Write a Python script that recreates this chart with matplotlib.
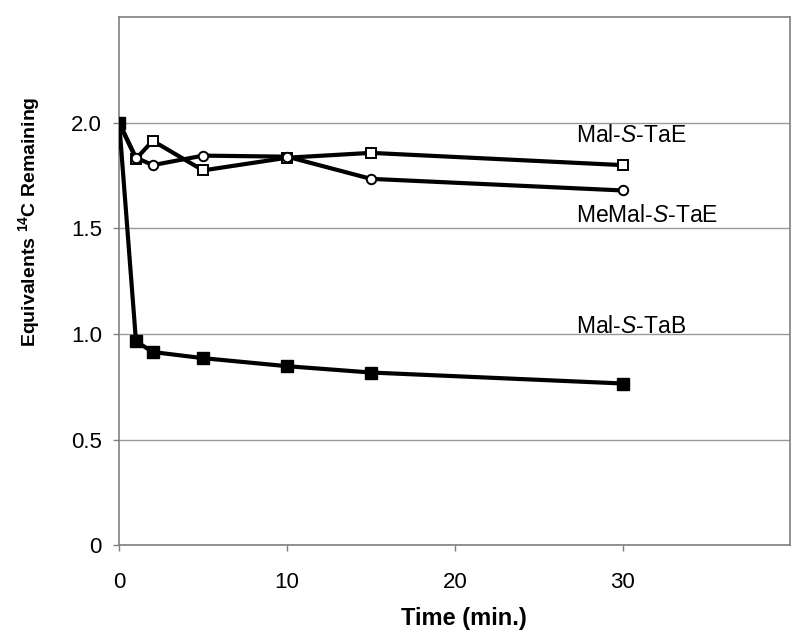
import matplotlib
matplotlib.use("Agg")
import matplotlib.pyplot as plt

# data
time_min = [0, 1, 2, 5, 10, 15, 30]
mal_s_tab = [2.0, 0.966, 0.915, 0.886, 0.848, 0.818, 0.766]
mal_s_tae = [2.0, 1.83, 1.915, 1.775, 1.835, 1.858, 1.80]
memal_s_tae = [2.0, 1.835, 1.80, 1.845, 1.84, 1.735, 1.68]

x_ticks = [0, 10, 20, 30]
y_ticks = [0, 0.5, 1.0, 1.5, 2.0]
y_ticklabels = ["0", "0.5", "1.0", "1.5", "2.0"]

plt.rcParams['font.family'] = ['Liberation Sans', 'DejaVu Sans']
plt.rcParams['mathtext.fontset'] = 'custom'
plt.rcParams['mathtext.rm'] = 'Liberation Sans'
plt.rcParams['mathtext.it'] = 'Liberation Sans:italic'
plt.rcParams['mathtext.bf'] = 'Liberation Sans:bold'

fig = plt.figure(figsize=(8, 6.4), dpi=100)
ax = fig.add_axes([0.149, 0.148, 0.839, 0.825])

lw = 3.0
ax.plot(time_min, mal_s_tae, color='black', lw=lw, marker='s', ms=7.5,
        mfc='white', mec='black', mew=1.4, zorder=3)
ax.plot(time_min, memal_s_tae, color='black', lw=lw, marker='o', ms=6.8,
        mfc='white', mec='black', mew=1.4, zorder=3)
ax.plot(time_min, mal_s_tab, color='black', lw=lw, marker='s', ms=8.5,
        mfc='black', mec='black', zorder=4)

ax.set_xlim(0, 40)
ax.set_ylim(0, 2.5)
ax.set_xticks(x_ticks)
ax.set_yticks(y_ticks)
ax.set_yticklabels(y_ticklabels)

ax.yaxis.grid(True, color='#999999', lw=1.0)
ax.set_axisbelow(True)
for s in ax.spines.values():
    s.set_color('#808080')
    s.set_linewidth(1.2)
ax.tick_params(axis='both', color='#808080', length=4.5, width=1.0)
ax.tick_params(axis='y', pad=8, labelsize=16)
ax.tick_params(axis='x', pad=15, labelsize=16)

ax.set_xlabel("Time (min.)", fontsize=17, fontweight='bold')
ax.xaxis.set_label_coords(0.514, -0.117)
ax.set_ylabel(r"Equivalents $\mathbf{^{14}}$C Remaining", fontsize=14,
              fontweight='bold')
ax.yaxis.set_label_coords(-0.115, 0.612)

ax.text(27.2, 1.94, r"Mal-$\mathit{S}$-TaE", fontsize=16.5, va='center', ha='left')
ax.text(27.2, 1.56, r"MeMal-$\mathit{S}$-TaE", fontsize=16.5, va='center', ha='left')
ax.text(27.2, 1.035, r"Mal-$\mathit{S}$-TaB", fontsize=16.5, va='center', ha='left')

fig.savefig("out.png", dpi=100)
